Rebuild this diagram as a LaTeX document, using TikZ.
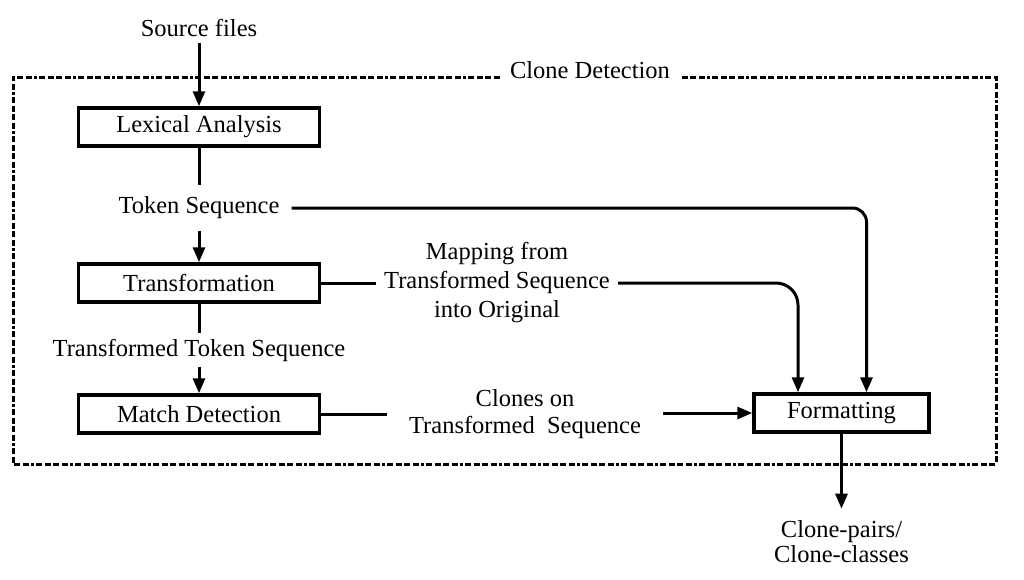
\documentclass[tikz,border=0pt]{standalone}
\usepackage{fontspec}
\setmainfont{Liberation Serif}
\usepackage{tikz}
\usetikzlibrary{positioning,arrows.meta}

\begin{document}
\begin{tikzpicture}[
	x=1pt, y=-1pt,
	font=\fontsize{24.5}{29}\selectfont,
	>={Triangle[length=15pt,width=12pt]},
	stepbox/.style={rectangle, draw=black, line width=3.5pt, minimum width=241pt, minimum height=38pt, inner sep=0pt},
	textnode/.style={inner sep=6pt, align=center},
	flow/.style={line width=3pt},
	frame/.style={line width=3pt, dash pattern=on 6pt off 2.5pt on 6pt off 2.5pt on 6pt off 2.5pt on 6pt off 2.5pt on 2.5pt off 2.5pt},
	]
	\useasboundingbox (0,0) rectangle (1024,579);

	%Nodes
	\node[textnode](src) at (199,28){Source files};
	\node[stepbox](lex) at (199,127){Lexical Analysis};
	\node[textnode, inner sep=12pt](tok) at (199,208){Token Sequence};
	\node[stepbox](trans) at (199,283){Transformation};
	\node[textnode](tts) at (199,350){Transformed Token Sequence};
	\node[stepbox](match) at (199,414){Match Detection};
	\node[stepbox, minimum width=175pt](fmt) at (841.5,413){Formatting};
	\node[textnode, inner sep=8pt](map) at (497,283){Mapping from\\Transformed Sequence\\into Original};
	\node[textnode, inner xsep=22pt, font=\fontsize{24.5}{27}\selectfont](cln) at (525,414){Clones on\\Transformed~~Sequence};
	\node[textnode, inner sep=12pt, font=\fontsize{24.5}{25}\selectfont](out) at (841.5,542){Clone-pairs/\\Clone-classes};
	\node[textnode, inner sep=10pt](cd) at (590,70){Clone Detection};

	%Frame
	\coordinate (tl) at (13,77);
	\coordinate (tr) at (996,77);
	\coordinate (bl) at (13,464);
	\coordinate (br) at (996,464);
	\draw[frame] (tl -| cd.west) -- (tl) -- (bl) -- (br) -- (tr) -- (tr -| cd.east);

	%Lines
	\draw[flow,->] (src.south) -- (lex.north);
	\draw[flow] (lex.south) -- (tok.north);
	\draw[flow,->] (tok.south) -- (trans.north);
	\draw[flow] (trans.south) -- (tts.north);
	\draw[flow,->] (tts.south) -- (match.north);
	\draw[flow] (trans.east) -- (trans.east -| map.west);
	\draw[flow] (match.east) -- (match.east -| cln.west);
	\draw[flow,->] (cln.east |- fmt.west) -- (fmt.west);
	\draw[flow,->, rounded corners=14pt] (tok.east) -| ([xshift=25pt]fmt.north);
	\draw[flow,->, rounded corners=22pt] (map.east) -| ([xshift=-43.5pt]fmt.north);
	\draw[flow,->] (fmt.south) -- (out.north);
\end{tikzpicture}
\end{document}
